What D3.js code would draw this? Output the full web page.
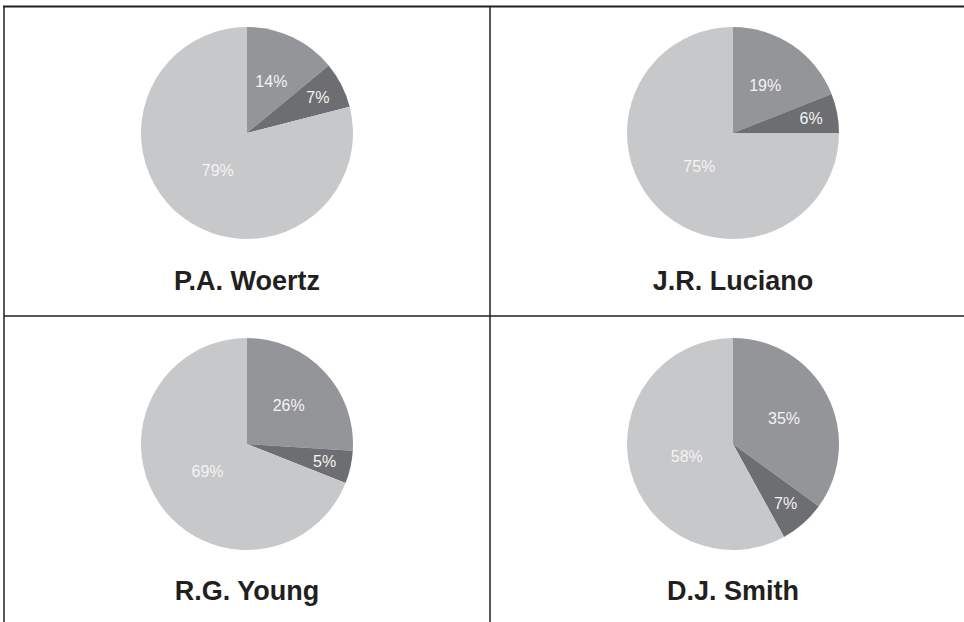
<!DOCTYPE html>
<html>
<head>
<meta charset="utf-8">
<script src="https://cdn.jsdelivr.net/npm/d3@7"></script>
<style>
  body { margin: 0; background: #fff; }
  svg { display: block; }
</style>
</head>
<body>
<svg id="chart" width="964" height="622"></svg>
<script>

// chart values
var names = ["P.A. Woertz", "J.R. Luciano", "R.G. Young", "D.J. Smith"];
var segments = ["Segment A", "Segment B", "Segment C"];
var shares = [
  [14, 7, 79],
  [19, 6, 75],
  [26, 5, 69],
  [35, 7, 58]
];

var width = 964, height = 622;
var svg = d3.select("#chart");

var ink = "#231f20";
var colorScale = d3.scaleOrdinal()
  .domain(segments)
  .range(["#939598", "#6d6e71", "#c7c8ca"]);

// where each label sits, as share of the radius
var labelPos = d3.scaleOrdinal()
  .domain(segments)
  .range([0.54, 0.75, 0.45]);

// grid of cells: 2 columns, 2 rows
var x0 = 4, y0 = 6.5, cellW = 486, cellH = 309.5;
var colScale = d3.scaleBand().domain([0, 1]).range([x0, x0 + 2 * cellW]);
var rowScale = d3.scaleBand().domain([0, 1]).range([y0, y0 + 2 * cellH]);

var radius = 106;

var pie = d3.pie().sort(null).value(function(d){ return d.v; });
var arc = d3.arc().innerRadius(0).outerRadius(radius);

names.forEach(function(name, i){
  var col = i % 2, row = Math.floor(i / 2);
  var cx = colScale(col) + cellW / 2;
  var top = rowScale(row);

  var data = shares[i].map(function(v, j){ return {k: segments[j], v: v}; });
  var arcs = pie(data);

  var g = svg.append("g")
    .attr("transform", "translate(" + cx + "," + (top + 126.5 + row * 1.5) + ")");

  g.selectAll(".slice")
    .data(arcs)
    .enter().append("path")
    .attr("class", "slice")
    .attr("d", arc)
    .attr("fill", function(d){ return colorScale(d.data.k); });

  g.selectAll(".pct")
    .data(arcs)
    .enter().append("text")
    .attr("class", "pct")
    .attr("transform", function(d){
      var r = radius * labelPos(d.data.k);
      var a = (d.startAngle + d.endAngle) / 2;
      return "translate(" + (Math.sin(a) * r) + "," + (-Math.cos(a) * r) + ")";
    })
    .attr("text-anchor", "middle")
    .attr("dy", "0.36em")
    .attr("font-family", "Liberation Sans, Arial, sans-serif")
    .attr("font-size", 16)
    .attr("fill", "#f4f4f4")
    .text(function(d){ return d.data.v + "%"; });

  svg.append("text")
    .attr("x", cx)
    .attr("y", top + 283.5 + row * 0.5)
    .attr("text-anchor", "middle")
    .attr("font-family", "Liberation Sans, Arial, sans-serif")
    .attr("font-weight", "bold")
    .attr("font-size", 27)
    .attr("fill", ink)
    .text(name);
});

// table rules
var rules = [
  [x0 - 1, y0, width + 20, y0],
  [x0, y0, x0, height + 10],
  [x0, y0 + cellH, width + 20, y0 + cellH],
  [x0 + cellW, y0, x0 + cellW, height + 10]
];
svg.selectAll(".rule")
  .data(rules)
  .enter().append("line")
  .attr("class", "rule")
  .attr("x1", function(d){ return d[0]; })
  .attr("y1", function(d){ return d[1]; })
  .attr("x2", function(d){ return d[2]; })
  .attr("y2", function(d){ return d[3]; })
  .attr("stroke", ink)
  .attr("stroke-width", function(d, i){ return i === 0 ? 2 : 1.5; });

</script>
</body>
</html>
